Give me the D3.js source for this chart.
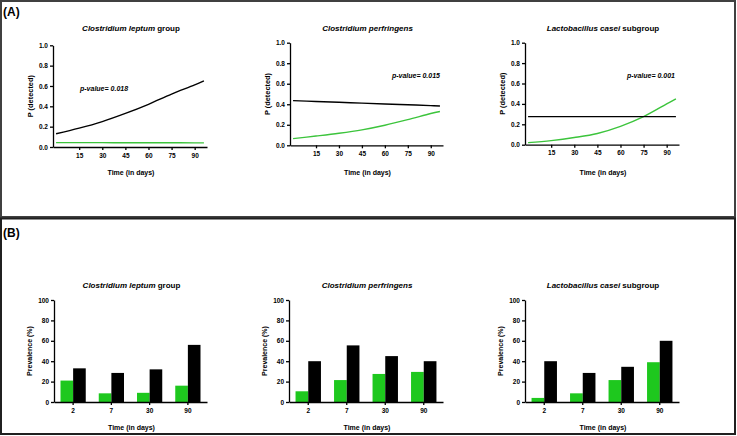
<!DOCTYPE html>
<html>
<head>
<meta charset="utf-8">
<script src="https://cdn.jsdelivr.net/npm/d3@7"></script>
<style>
  body { margin: 0; background: #fff; }
  svg { display: block; font-family: "Liberation Sans", Arial, sans-serif; }
  .axis path, .axis line { stroke: #000; stroke-width: 1.3; }
  .axis text { font-size: 6.5px; font-weight: bold; fill: #000; }
  .ttl { font-size: 8px; font-weight: bold; }
  .lab { font-size: 7px; font-weight: bold; }
</style>
</head>
<body>
<div id="chart"></div>
<script>
// ---- data ----
const species = ["Clostridium leptum", "Clostridium perfringens", "Lactobacillus casei"];
const suffix = [" group", "", " subgroup"];
const pValues = ["0.018", "0.015", "0.001"];

// panel A: modelled probability of detection vs time (days)
const days = [0, 15, 30, 45, 60, 75, 90, 96];
const blackP = [
  [0.13, 0.185, 0.25, 0.33, 0.42, 0.52, 0.61, 0.65],
  [0.435, 0.427, 0.419, 0.411, 0.403, 0.395, 0.387, 0.383],
  [0.275, 0.275, 0.275, 0.275, 0.275, 0.275, 0.275, 0.275]
];
const greenP = [
  [0.043, 0.043, 0.043, 0.042, 0.042, 0.042, 0.041, 0.041],
  [0.065, 0.09, 0.117, 0.15, 0.195, 0.25, 0.31, 0.33],
  [0.02, 0.04, 0.07, 0.11, 0.18, 0.275, 0.40, 0.45]
];

// panel B: prevalence (%) at sampling days
const sampleDays = ["2", "7", "30", "90"];
const greenPrev = [
  [21, 8.5, 9, 16],
  [10.5, 21.5, 27.5, 29.5],
  [4, 8.5, 21.5, 39]
];
const blackPrev = [
  [33, 28.5, 32, 56],
  [40, 55.5, 45, 40],
  [40, 28.5, 34.5, 60]
];

const GREEN_LINE = "#3cc43c";
const GREEN_BAR = "#1ec81e";

const W = 737, H = 436;
const svg = d3.select("#chart").append("svg")
  .attr("width", W).attr("height", H);

// frames
svg.append("rect").attr("x", 1).attr("y", 1).attr("width", 734).attr("height", 216)
  .attr("fill", "none").attr("stroke", "#404040").attr("stroke-width", 2);
svg.append("rect").attr("x", 1).attr("y", 218.5).attr("width", 734).attr("height", 215.5)
  .attr("fill", "none").attr("stroke", "#202020").attr("stroke-width", 2);

svg.append("text").attr("x", 3).attr("y", 16).style("font-size", "12px")
  .style("font-weight", "bold").text("(A)");
svg.append("text").attr("x", 3).attr("y", 237).style("font-size", "12px")
  .style("font-weight", "bold").text("(B)");

function title(g, i, cx, y) {
  const t = g.append("text").attr("class", "ttl").attr("x", cx).attr("y", y)
    .attr("text-anchor", "middle");
  t.append("tspan").style("font-style", "italic").text(species[i]);
  if (suffix[i]) t.append("tspan").text(suffix[i]);
}

// ---- panel A ----
const aX = [[53, 207], [290, 443], [525, 679]];
const aY = [[147, 45.3], [145.3, 42.7], [144.7, 42.7]];
const pvPos = [{ x: 80, y: 91, anchor: "start" }, { x: 440, y: 78, anchor: "end" }, { x: 675, y: 78, anchor: "end" }];

species.forEach((s, i) => {
  const g = svg.append("g");
  const x = d3.scaleLinear().domain([-2, 98]).range(aX[i]);
  const y = d3.scaleLinear().domain([0, 1]).range(aY[i]);

  g.append("g").attr("class", "axis")
    .attr("transform", "translate(0," + aY[i][0] + ")")
    .call(d3.axisBottom(x).tickValues([15, 30, 45, 60, 75, 90]).tickSize(3).tickSizeOuter(0).tickPadding(3));
  g.append("g").attr("class", "axis")
    .attr("transform", "translate(" + aX[i][0] + ",0)")
    .call(d3.axisLeft(y).tickValues([0, 0.2, 0.4, 0.6, 0.8, 1]).tickFormat(d3.format(".1f"))
      .tickSize(3).tickSizeOuter(0).tickPadding(2));

  const line = d3.line().x((d, k) => x(days[k])).y(d => y(d)).curve(d3.curveCatmullRom);
  g.append("path").datum(greenP[i]).attr("d", line)
    .attr("fill", "none").attr("stroke", GREEN_LINE).attr("stroke-width", 1.4);
  g.append("path").datum(blackP[i]).attr("d", line)
    .attr("fill", "none").attr("stroke", "#000").attr("stroke-width", 1.4);

  const cx = (aX[i][0] + aX[i][1]) / 2 + 1;
  title(g, i, cx, 31);
  g.append("text").attr("class", "lab").attr("x", cx).attr("y", 175)
    .attr("text-anchor", "middle").text("Time (in days)");
  g.append("text").attr("class", "lab")
    .attr("transform", "translate(" + (aX[i][0] - 20.5) + "," + ((aY[i][0] + aY[i][1]) / 2) + ") rotate(-90)")
    .attr("text-anchor", "middle").style("font-size", "7.4px").text("P (detected)");
  g.append("text").attr("x", pvPos[i].x).attr("y", pvPos[i].y)
    .attr("text-anchor", pvPos[i].anchor)
    .style("font-size", "7px").style("font-weight", "bold").style("font-style", "italic")
    .text("p-value= " + pValues[i]);
});

// ---- panel B ----
const bX = [[54, 207], [289, 443], [525, 679]];
const bY = [402, 300];

species.forEach((s, i) => {
  const g = svg.append("g");
  const x = d3.scaleBand().domain(sampleDays).range(bX[i]).paddingInner(0.34).paddingOuter(0.17);
  const y = d3.scaleLinear().domain([0, 100]).range(bY);
  const half = x.bandwidth() / 2;

  const rows = sampleDays.map((d, k) => ({ day: d, g: greenPrev[i][k], b: blackPrev[i][k] }));
  g.selectAll(".gb").data(rows).enter().append("rect")
    .attr("x", d => x(d.day)).attr("width", half)
    .attr("y", d => y(d.g)).attr("height", d => y(0) - y(d.g))
    .attr("fill", GREEN_BAR);
  g.selectAll(".bb").data(rows).enter().append("rect")
    .attr("x", d => x(d.day) + half).attr("width", half)
    .attr("y", d => y(d.b)).attr("height", d => y(0) - y(d.b))
    .attr("fill", "#000");

  g.append("g").attr("class", "axis")
    .attr("transform", "translate(0," + bY[0] + ")")
    .call(d3.axisBottom(x).tickSize(3).tickSizeOuter(0).tickPadding(3));
  g.append("g").attr("class", "axis")
    .attr("transform", "translate(" + bX[i][0] + ",0)")
    .call(d3.axisLeft(y).tickValues([0, 20, 40, 60, 80, 100]).tickSize(3).tickSizeOuter(0).tickPadding(2));

  const cx = (bX[i][0] + bX[i][1]) / 2 + 1;
  title(g, i, cx, 288);
  g.append("text").attr("class", "lab").attr("x", cx).attr("y", 429.5)
    .attr("text-anchor", "middle").text("Time (in days)");
  g.append("text").attr("class", "lab")
    .attr("transform", "translate(" + (bX[i][0] - 22) + "," + ((bY[0] + bY[1]) / 2) + ") rotate(-90)")
    .attr("text-anchor", "middle").text("Prevalence (%)");
});
</script>
</body>
</html>
